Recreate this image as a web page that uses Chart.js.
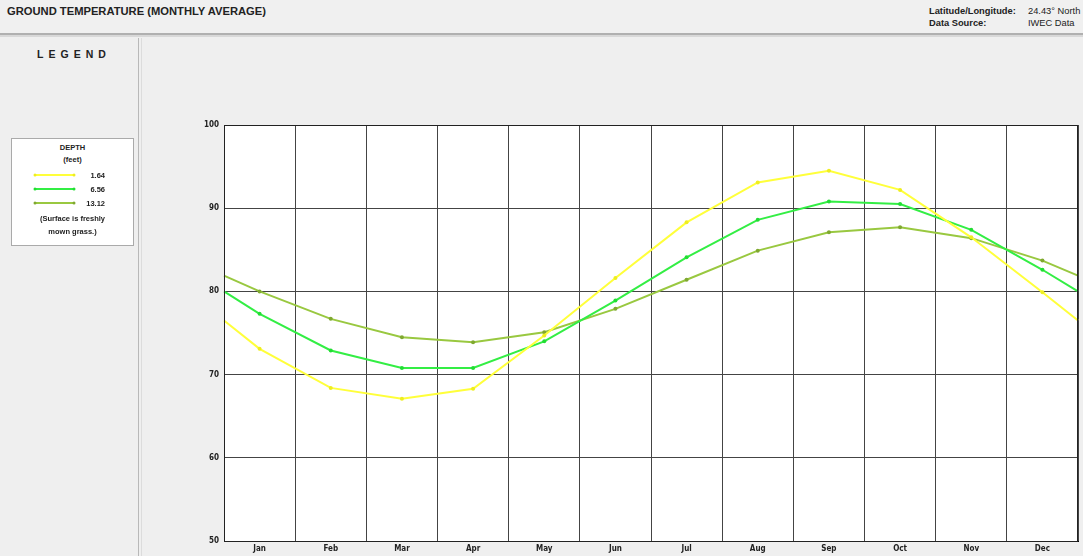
<!DOCTYPE html>
<html>
<head>
<meta charset="utf-8">
<script src="https://cdn.jsdelivr.net/npm/chart.js"></script>
<style>
  body { margin: 0; width: 1083px; height: 556px; background: #efefef; font-family: Arial, "Liberation Sans", sans-serif; overflow: hidden; position: relative; }
  .header { position: absolute; left: 0; top: 0; width: 1083px; height: 33px; background: #f0f0f0; border-bottom: 2px solid #b0b0b0; }
  .header .sep { position: absolute; left: 0; top: 35px; width: 1083px; height: 2px; background: #d8d8d8; }
  .title { position: absolute; left: 7px; top: 5px; font-size: 11.2px; font-weight: bold; color: #222; }
  .info { position: absolute; top: 5px; font-size: 9.3px; color: #222; line-height: 12px; }
  .left { position: absolute; left: 0; top: 38px; width: 138px; height: 518px; background: #efefef; border-right: 1px solid #b8b8b8; }
  .leftedge { position: absolute; left: 141px; top: 38px; width: 1px; height: 518px; background: #dcdcdc; }
  .legtitle { position: absolute; left: 5px; width: 138px; top: 10px; text-align: center; font-size: 10.5px; font-weight: bold; letter-spacing: 5px; color: #222; }
  .legbox { position: absolute; left: 11px; top: 100px; width: 121px; height: 106px; background: #fff; border: 1px solid #aaa; font-size: 7.5px; font-weight: bold; color: #222; }
  .legbox .c { position: absolute; left: 0; width: 121px; text-align: center; }
  .legbox .v { position: absolute; left: 60px; width: 33px; text-align: right; }
  #wrap { position: absolute; left: 142px; top: 38px; width: 941px; height: 518px; }
</style>
</head>
<body>
<div class="header">
  <div class="title">GROUND TEMPERATURE (MONTHLY AVERAGE)</div>
  <div class="info" style="left:929px;font-weight:bold;">Latitude/Longitude:<br>Data Source:</div>
  <div class="info" style="left:1028px;">24.43° North<br>IWEC Data</div>
  <div class="sep"></div>
</div>
<div class="left">
  <div class="legtitle">LEGEND</div>
  <div class="legbox">
    <div class="c" style="top:4px;">DEPTH</div>
    <div class="c" style="top:16px;">(feet)</div>
    <canvas id="legLines" width="121" height="46" style="position:absolute;left:0;top:27px;"></canvas>
    <div class="v" style="top:32px;">1.64</div>
    <div class="v" style="top:46px;">6.56</div>
    <div class="v" style="top:60px;">13.12</div>
    <div class="c" style="top:75px;">(Surface is freshly</div>
    <div class="c" style="top:88px;">mown grass.)</div>
  </div>
</div>
<div class="leftedge"></div>
<div id="wrap"><canvas id="chart" width="941" height="518"></canvas></div>
<script>
// month labels on the x axis
const months = ['Jan', 'Feb', 'Mar', 'Apr', 'May', 'Jun', 'Jul', 'Aug', 'Sep', 'Oct', 'Nov', 'Dec'];
const depths = ['1.64', '6.56', '13.12'];
const colors = ['#ffff3a', '#33ee44', '#99c840'];
const pointColors = ['#eeee20', '#22dd33', '#7fa830'];

// monthly averages (deg F)
const temps164 = [73.1, 68.4, 67.1, 68.3, 74.7, 81.6, 88.3, 93.1, 94.5, 92.2, 86.5, 79.9];
const temps656 = [77.3, 72.9, 70.8, 70.8, 74.0, 78.9, 84.1, 88.6, 90.8, 90.5, 87.4, 82.6];
const temps1312 = [80.0, 76.7, 74.5, 73.9, 75.1, 77.9, 81.4, 84.9, 87.1, 87.7, 86.4, 83.7];
// value where each line meets the left / right border of the plot
const edgeTemps = [76.5, 80.0, 81.9];

const yTicks = [50, 60, 70, 80, 90, 100];

function series(vals, edge) {
    const pts = [{ x: 0, y: edge }];
    vals.forEach((v, i) => pts.push({ x: i + 0.5, y: v }));
    pts.push({ x: 12, y: edge });
    return pts;
}

const allTemps = [temps164, temps656, temps1312];
const datasets = allTemps.map((vals, i) => ({
    label: depths[i],
    data: series(vals, edgeTemps[i]),
    borderColor: colors[i],
    backgroundColor: pointColors[i],
    borderWidth: 2,
    pointRadius: ctx => (ctx.dataIndex === 0 || ctx.dataIndex === 13) ? 0 : 2,
    pointBorderWidth: 0,
    pointBackgroundColor: pointColors[i],
    tension: 0,
    clip: false
}));

new Chart(document.getElementById('chart'), {
    type: 'line',
    data: { datasets: datasets },
    options: {
        responsive: false,
        animation: false,
        layout: { padding: { top: 87, right: 5, left: 0, bottom: 0 } },
        plugins: { legend: { display: false }, tooltip: { enabled: false } },
        scales: {
            x: {
                type: 'linear',
                min: 0,
                max: 12,
                afterFit: s => { s.height = 15; },
                afterBuildTicks: s => {
                    const t = [];
                    for (let i = 0; i <= 24; i++) t.push({ value: i / 2 });
                    s.ticks = t;
                },
                grid: {
                    color: ctx => (ctx.tick && ctx.tick.value % 1 === 0) ? '#444' : 'rgba(0,0,0,0)',
                    lineWidth: 1,
                    drawTicks: false
                },
                border: { color: '#000', width: 1 },
                ticks: {
                    autoSkip: false,
                    maxRotation: 0,
                    padding: 3,
                    color: '#222',
                    font: { family: 'DejaVu Sans Condensed', size: 8, weight: 'bold' },
                    callback: v => (v % 1 === 0.5) ? months[Math.floor(v)] : ''
                }
            },
            y: {
                min: 50,
                max: 100,
                afterFit: s => { s.width = 82; },
                afterBuildTicks: s => { s.ticks = yTicks.map(v => ({ value: v })); },
                grid: { color: '#444', lineWidth: 1, drawTicks: false },
                border: { color: '#000', width: 1 },
                ticks: {
                    padding: 5,
                    color: '#222',
                    font: { family: 'DejaVu Sans Condensed', size: 8, weight: 'bold' }
                }
            }
        }
    },
    plugins: [{
        id: 'plotBg',
        beforeDraw: chart => {
            const a = chart.chartArea;
            const c = chart.ctx;
            c.save();
            c.fillStyle = '#fff';
            c.fillRect(a.left, a.top, a.right - a.left, a.bottom - a.top);
            c.restore();
        },
        afterDraw: chart => {
            const a = chart.chartArea;
            const c = chart.ctx;
            c.save();
            c.strokeStyle = '#222';
            c.lineWidth = 1;
            c.strokeRect(a.left + 0.5, a.top + 0.5, a.right - a.left - 1, a.bottom - a.top);
            c.restore();
        }
    }]
});

// small line samples in the legend box
const lc = document.getElementById('legLines').getContext('2d');
depths.forEach((d, i) => {
    const y = 9 + i * 14;
    lc.strokeStyle = colors[i];
    lc.lineWidth = 2;
    lc.beginPath();
    lc.moveTo(23, y);
    lc.lineTo(62, y);
    lc.stroke();
    lc.fillStyle = pointColors[i];
    [23, 62].forEach(x => { lc.beginPath(); lc.arc(x, y, 1.5, 0, Math.PI * 2); lc.fill(); });
});
</script>
</body>
</html>
